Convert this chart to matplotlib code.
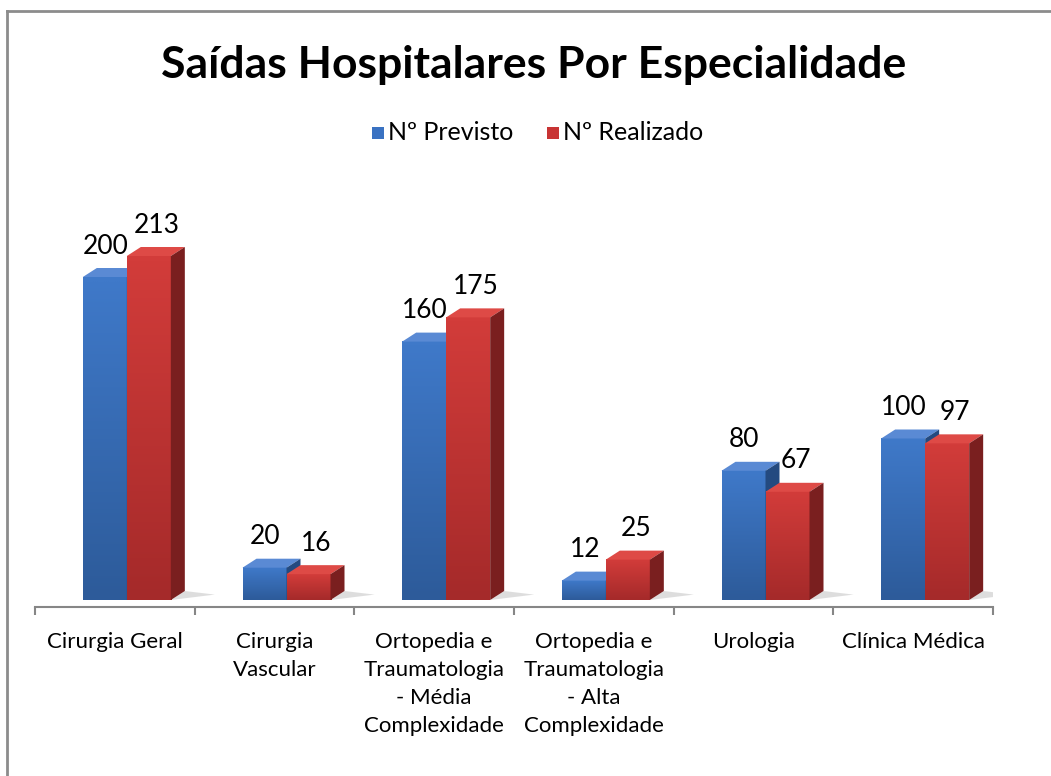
import matplotlib
matplotlib.use("Agg")
import matplotlib.pyplot as plt
from matplotlib.patches import Polygon, Rectangle
from matplotlib.lines import Line2D
import numpy as np

plt.rcParams['font.family'] = ['Lato', 'DejaVu Sans']

categorias = ['Cirurgia Geral', 'Cirurgia\nVascular',
              'Ortopedia e\nTraumatologia\n- Média\nComplexidade',
              'Ortopedia e\nTraumatologia\n- Alta\nComplexidade',
              'Urologia', 'Clínica Médica']
previsto = [200, 20, 160, 12, 80, 100]
realizado = [213, 16, 175, 25, 67, 97]
series = ['Nº Previsto', 'Nº Realizado']

W, H = 1051, 776
fig = plt.figure(figsize=(W / 100, H / 100), dpi=100)

# axes placed in pixel terms
ax_l, ax_r, ax_b, ax_t = 35, 993, 607, 150
ax = fig.add_axes([ax_l / W, 1 - ax_b / H, (ax_r - ax_l) / W, (ax_b - ax_t) / H])
ppu = 1.615                        # pixels per value unit
ppx = (ax_r - ax_l) / 6.0          # pixels per category
ax.set_xlim(-0.5, 5.5)
ax.set_ylim(-7 / ppu, (ax_b - ax_t - 7) / ppu)

bw = 44 / ppx
dx, dy = 14 / ppx, 9 / ppu

cores = {
    'blue': dict(top='#5a8ad4', side='#244a80', grad=('#3f79c9', '#2d5b9a')),
    'red': dict(top='#de4a46', side='#7a1f1f', grad=('#d23c3a', '#a52a2a')),
}


def bar3d(x0, h, c, z):
    # shadow on floor
    ax.add_patch(Polygon([[x0 + bw, 0], [x0 + bw + dx + 30 / ppx, 0.6 * dy],
                          [x0 + bw + dx, dy]], closed=True,
                         facecolor='#bdbdbd', edgecolor='none', alpha=0.5, zorder=1))
    grad = np.linspace(0, 1, 50).reshape(-1, 1)
    cmap = matplotlib.colors.LinearSegmentedColormap.from_list('g', [c['grad'][1], c['grad'][0]])
    ax.imshow(grad, extent=[x0, x0 + bw, 0, h], origin='lower', aspect='auto',
              cmap=cmap, zorder=z, interpolation='bilinear')
    ax.add_patch(Polygon([[x0, h], [x0 + bw, h], [x0 + bw + dx, h + dy], [x0 + dx, h + dy]],
                         closed=True, facecolor=c['top'], edgecolor='none', zorder=z + 0.5))
    ax.add_patch(Polygon([[x0 + bw, 0], [x0 + bw + dx, dy], [x0 + bw + dx, h + dy], [x0 + bw, h]],
                         closed=True, facecolor=c['side'], edgecolor='none', zorder=z + 0.5))


x = np.arange(len(categorias))
for i in x:
    xb = i - 32 / ppx
    xr = xb + bw
    bar3d(xb, previsto[i], cores['blue'], 2)
    bar3d(xr, realizado[i], cores['red'], 3)
    ax.text(xb + bw / 2 + 1 / ppx, previsto[i] + 31 / ppu, str(previsto[i]),
            ha='center', va='center', fontsize=19, color='black', zorder=5)
    ax.text(xr + bw / 2 + 8 / ppx, realizado[i] + 31 / ppu, str(realizado[i]),
            ha='center', va='center', fontsize=19, color='black', zorder=5)

for s in ['top', 'right', 'left']:
    ax.spines[s].set_visible(False)
ax.spines['bottom'].set_color('#868686')
ax.spines['bottom'].set_linewidth(1.5)
ax.set_yticks([])
ax.set_xticks(np.arange(-0.5, 6, 1))
ax.set_xticklabels([])
ax.tick_params(axis='x', which='major', length=6, width=1.5, color='#868686', direction='out')
ax.set_xticks(x, minor=True)
ax.set_xticklabels(categorias, minor=True, fontsize=16, linespacing=1.5)
ax.tick_params(axis='x', which='minor', length=0, pad=18)
ax.patch.set_alpha(0)

fig.text(534 / W, 1 - 65 / H, 'Saídas Hospitalares Por Especialidade',
         ha='center', va='center', fontsize=32, fontweight='bold')

# legend
for (xs, lab, c) in [(372, series[0], '#3a72c2'), (547, series[1], '#c83434')]:
    fig.add_artist(Rectangle((xs / W, 1 - 139 / H), 12 / W, 12 / H,
                             transform=fig.transFigure, facecolor=c, edgecolor='none'))
    fig.text((xs + 16) / W, 1 - 133 / H, lab, ha='left', va='center', fontsize=18)

# chart border
fig.add_artist(Line2D([7 / W, 7 / W], [0, 1 - 11 / H], transform=fig.transFigure,
                      color='#8c8c8c', linewidth=2))
fig.add_artist(Line2D([7 / W, 1], [1 - 11 / H, 1 - 11 / H], transform=fig.transFigure,
                      color='#8c8c8c', linewidth=2))

plt.savefig('out.png', dpi=100)
